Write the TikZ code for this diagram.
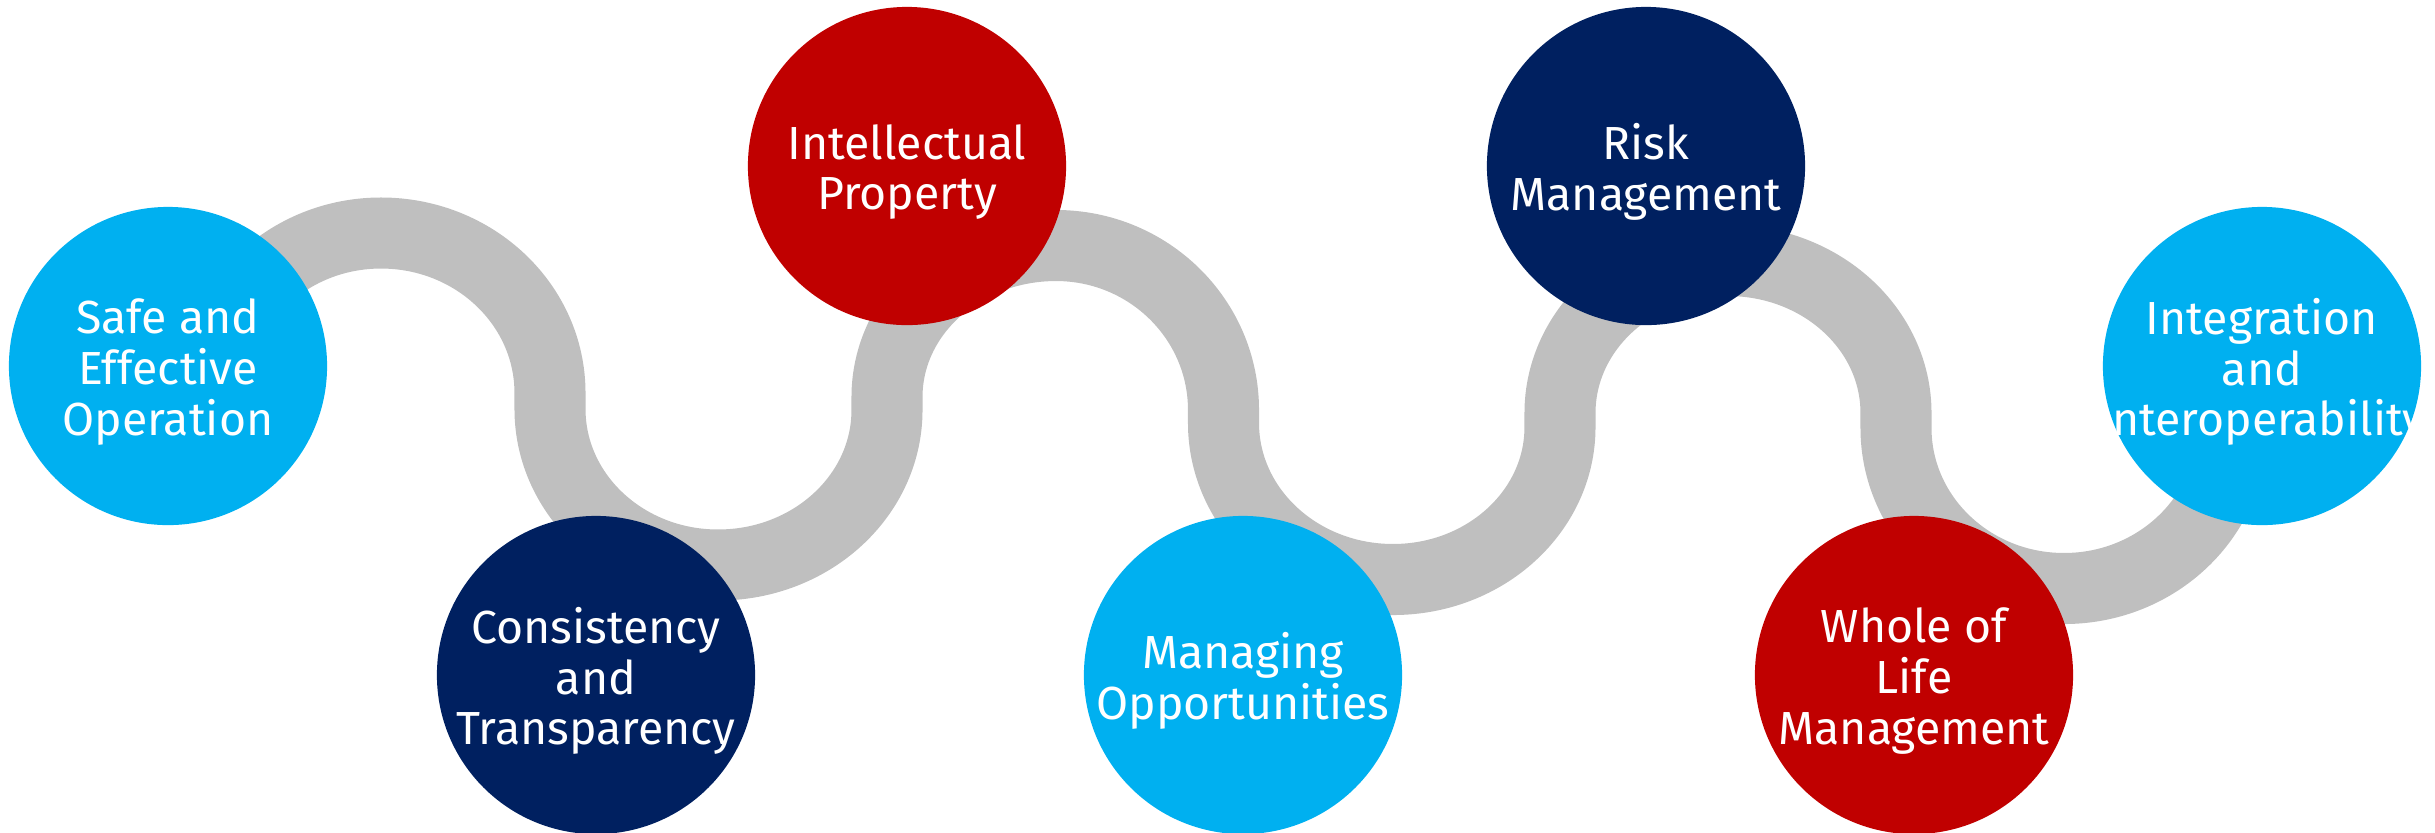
\documentclass[tikz,border=0pt]{standalone}
\usepackage{fontspec}
\setmainfont{Fira Sans}
\usepackage{tikz}

\definecolor{skyblue}{HTML}{00B0F0}
\definecolor{navyblue}{HTML}{002060}
\definecolor{darkred}{HTML}{C00000}
\definecolor{roadgray}{HTML}{BFBFBF}

\tikzset{
  milestone/.style={circle, minimum size=3.18cm, inner sep=0pt},
  caption/.style={text=white, align=center, inner sep=0pt, yshift=-0.06cm,
    font=\fontsize{13.2}{14.4}\selectfont},
  road/.style={draw=roadgray, line width=0.71cm}
}

\begin{document}
\begin{tikzpicture}[x=0.01cm, y=0.01cm]

	\useasboundingbox (0,0) rectangle (2435,-832);

	% the winding road behind the circles
	\draw[road] (213,-393)
		arc[start angle=180, end angle=90, x radius=168, y radius=160]
		arc[start angle=90, end angle=0, x radius=169, y radius=160]
		-- (550,-409)
		arc[start angle=180, end angle=270, x radius=168, y radius=156]
		arc[start angle=270, end angle=360, x radius=169, y radius=155]
		-- (887,-397)
		arc[start angle=180, end angle=90, x radius=169, y radius=151.5]
		arc[start angle=90, end angle=0, x radius=167.5, y radius=164.5]
		-- (1223.5,-423)
		arc[start angle=180, end angle=270, x radius=169.5, y radius=156.5]
		arc[start angle=270, end angle=360, x radius=167, y radius=152.5]
		-- (1560,-413)
		arc[start angle=180, end angle=90, x radius=168, y radius=152.5]
		arc[start angle=90, end angle=0, x radius=168, y radius=152.5]
		-- (1896,-428)
		arc[start angle=180, end angle=270, x radius=168, y radius=160.5]
		arc[start angle=270, end angle=360, x radius=168, y radius=160];

	\foreach \x/\y/\col/\name/\txt in {
		168/366/skyblue/safe/{Safe and\\Effective\\Operation},
		596/675/navyblue/consist/{Consistency\\and\\Transparency},
		907/166/darkred/ip/{Intellectual\\Property},
		1243/675/skyblue/opport/{Managing\\Opportunities},
		1646/166/navyblue/risk/{Risk\\Management},
		1914/675/darkred/life/{Whole of\\Life\\Management},
		2262/366/skyblue/integr/{Integration\\and\\Interoperability}} {
		\node[milestone, fill=\col, label={[caption]center:\txt}] (\name) at (\x,-\y) {};
	}

\end{tikzpicture}
\end{document}
